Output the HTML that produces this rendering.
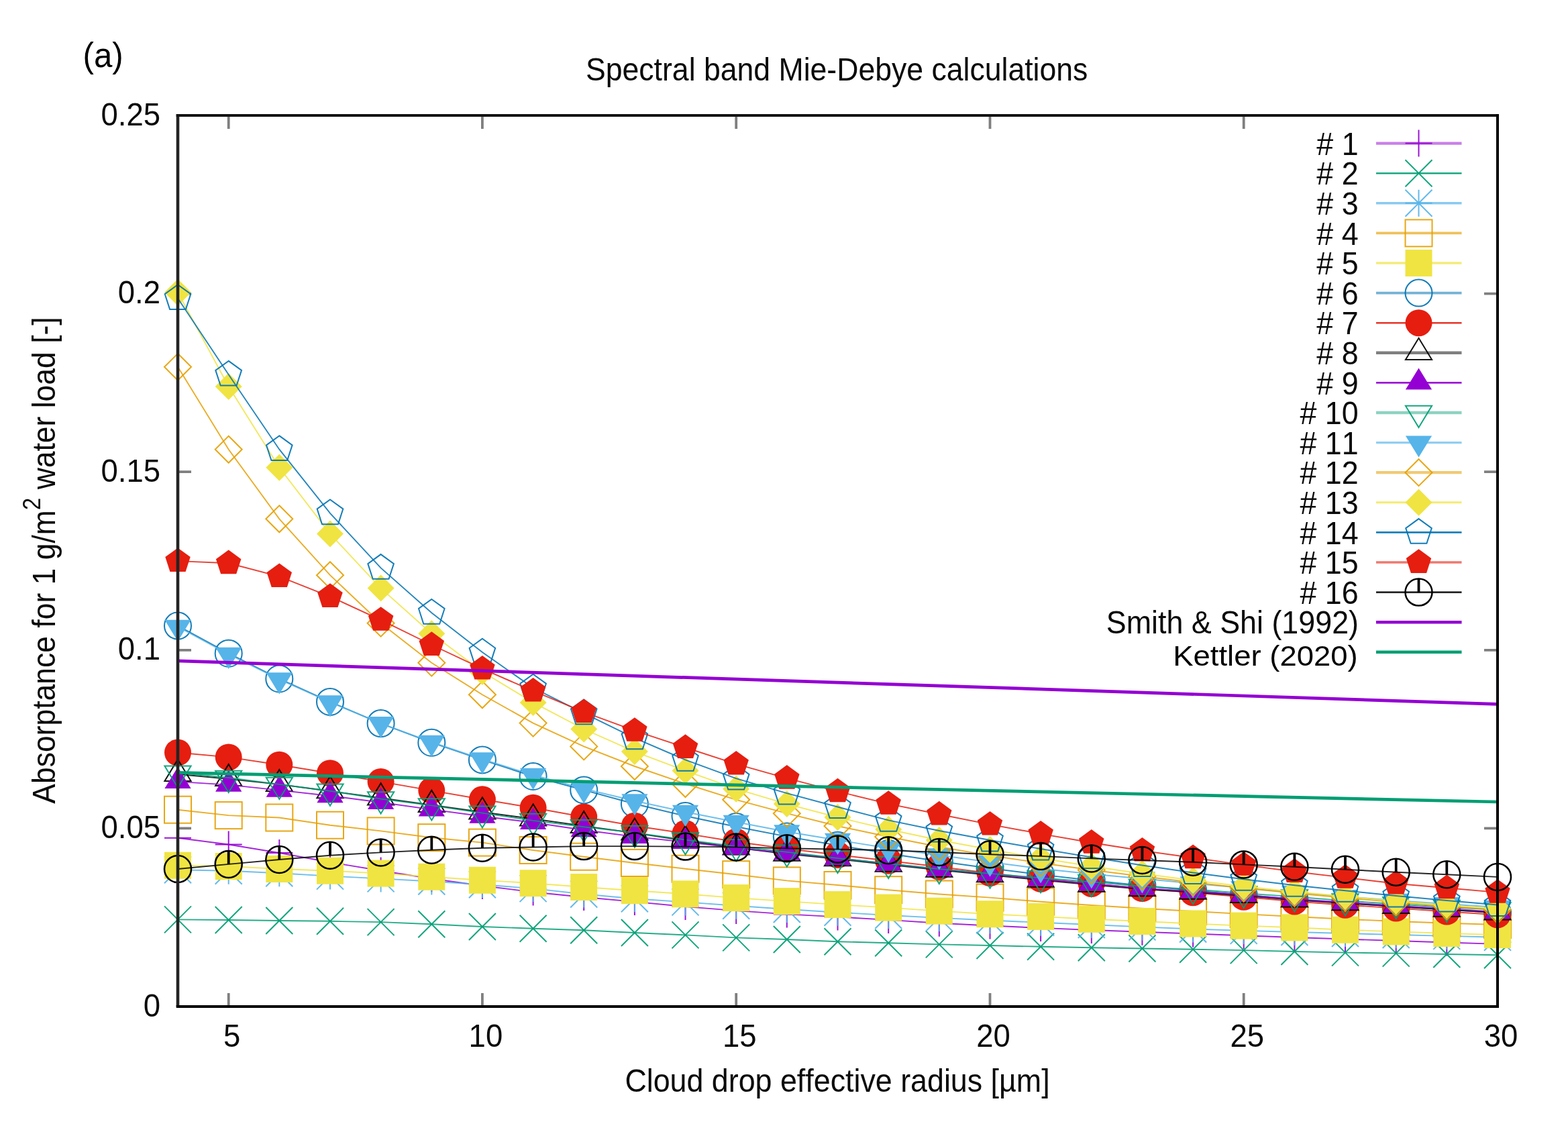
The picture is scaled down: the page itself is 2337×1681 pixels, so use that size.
<!DOCTYPE html>
<html lang="en"><head><meta charset="utf-8"><title>Spectral band Mie-Debye calculations</title>
<style>html,body{margin:0;padding:0;background:#fff}body{width:2337px;height:1681px;overflow:hidden}svg{display:block}text{font-family:'Liberation Sans', Arial, Helvetica, sans-serif;fill:#000;font-kerning:none}.p text{fill:#0a0a0a}</style></head><body>
<svg width="2337" height="1681" viewBox="0 0 2337 1681">
<rect width="2337" height="1681" fill="#fff"/>
<defs><clipPath id="c"><rect x="265" y="172" width="1967" height="1328"/></clipPath></defs>
<g>
<path d="M340.7 1500V1480M340.7 172V192M718.9 1500V1480M718.9 172V192M1097.2 1500V1480M1097.2 172V192M1475.5 1500V1480M1475.5 172V192M1853.7 1500V1480M1853.7 172V192M265 1234.4H285M2232 1234.4H2212M265 968.8H285M2232 968.8H2212M265 703.2H285M2232 703.2H2212M265 437.6H285M2232 437.6H2212" stroke="#000" stroke-opacity="0.5" stroke-width="3.8" fill="none"/>
<g stroke-linejoin="miter" stroke-linecap="butt">
<g>
<path d="M2051 213.6H2178.5" stroke="#9400D3" stroke-width="4.4" stroke-opacity="0.5" fill="none"/>
<path d="M2094.5 213.6H2134.5M2114.5 193.6V233.6" fill="none" stroke="#9400D3" stroke-width="2" stroke-opacity="0.92"/>
<polyline clip-path="url(#c)" points="265,1248.7 340.7,1258.5 416.3,1271 492,1285 567.6,1297.5 643.3,1309.5 718.9,1320 794.6,1329.5 870.2,1337 945.9,1343.9 1021.5,1351.1 1097.2,1357.1 1172.8,1362.4 1248.5,1366.4 1324.2,1370.9 1399.8,1375.7 1475.5,1379.5 1551.1,1382.9 1626.8,1386 1702.4,1388.8 1778.1,1391.5 1853.7,1394.3 1929.4,1397 2005,1399.5 2080.7,1402 2156.3,1404.5 2232,1406.9" fill="none" stroke="#9400D3" stroke-width="1.9" stroke-opacity="0.85"/>
<path d="M245 1248.7H285M265 1228.7V1268.7" fill="none" stroke="#9400D3" stroke-width="2" stroke-opacity="0.92"/>
<path d="M320.7 1258.5H360.7M340.7 1238.5V1278.5" fill="none" stroke="#9400D3" stroke-width="2" stroke-opacity="0.92"/>
<path d="M396.3 1271H436.3M416.3 1251V1291" fill="none" stroke="#9400D3" stroke-width="2" stroke-opacity="0.92"/>
<path d="M472 1285H512M492 1265V1305" fill="none" stroke="#9400D3" stroke-width="2" stroke-opacity="0.92"/>
<path d="M547.6 1297.5H587.6M567.6 1277.5V1317.5" fill="none" stroke="#9400D3" stroke-width="2" stroke-opacity="0.92"/>
<path d="M623.3 1309.5H663.3M643.3 1289.5V1329.5" fill="none" stroke="#9400D3" stroke-width="2" stroke-opacity="0.92"/>
<path d="M698.9 1320H738.9M718.9 1300V1340" fill="none" stroke="#9400D3" stroke-width="2" stroke-opacity="0.92"/>
<path d="M774.6 1329.5H814.6M794.6 1309.5V1349.5" fill="none" stroke="#9400D3" stroke-width="2" stroke-opacity="0.92"/>
<path d="M850.2 1337H890.2M870.2 1317V1357" fill="none" stroke="#9400D3" stroke-width="2" stroke-opacity="0.92"/>
<path d="M925.9 1343.9H965.9M945.9 1323.9V1363.9" fill="none" stroke="#9400D3" stroke-width="2" stroke-opacity="0.92"/>
<path d="M1001.5 1351.1H1041.5M1021.5 1331.1V1371.1" fill="none" stroke="#9400D3" stroke-width="2" stroke-opacity="0.92"/>
<path d="M1077.2 1357.1H1117.2M1097.2 1337.1V1377.1" fill="none" stroke="#9400D3" stroke-width="2" stroke-opacity="0.92"/>
<path d="M1152.8 1362.4H1192.8M1172.8 1342.4V1382.4" fill="none" stroke="#9400D3" stroke-width="2" stroke-opacity="0.92"/>
<path d="M1228.5 1366.4H1268.5M1248.5 1346.4V1386.4" fill="none" stroke="#9400D3" stroke-width="2" stroke-opacity="0.92"/>
<path d="M1304.2 1370.9H1344.2M1324.2 1350.9V1390.9" fill="none" stroke="#9400D3" stroke-width="2" stroke-opacity="0.92"/>
<path d="M1379.8 1375.7H1419.8M1399.8 1355.7V1395.7" fill="none" stroke="#9400D3" stroke-width="2" stroke-opacity="0.92"/>
<path d="M1455.5 1379.5H1495.5M1475.5 1359.5V1399.5" fill="none" stroke="#9400D3" stroke-width="2" stroke-opacity="0.92"/>
<path d="M1531.1 1382.9H1571.1M1551.1 1362.9V1402.9" fill="none" stroke="#9400D3" stroke-width="2" stroke-opacity="0.92"/>
<path d="M1606.8 1386H1646.8M1626.8 1366V1406" fill="none" stroke="#9400D3" stroke-width="2" stroke-opacity="0.92"/>
<path d="M1682.4 1388.8H1722.4M1702.4 1368.8V1408.8" fill="none" stroke="#9400D3" stroke-width="2" stroke-opacity="0.92"/>
<path d="M1758.1 1391.5H1798.1M1778.1 1371.5V1411.5" fill="none" stroke="#9400D3" stroke-width="2" stroke-opacity="0.92"/>
<path d="M1833.7 1394.3H1873.7M1853.7 1374.3V1414.3" fill="none" stroke="#9400D3" stroke-width="2" stroke-opacity="0.92"/>
<path d="M1909.4 1397H1949.4M1929.4 1377V1417" fill="none" stroke="#9400D3" stroke-width="2" stroke-opacity="0.92"/>
<path d="M1985 1399.5H2025M2005 1379.5V1419.5" fill="none" stroke="#9400D3" stroke-width="2" stroke-opacity="0.92"/>
<path d="M2060.7 1402H2100.7M2080.7 1382V1422" fill="none" stroke="#9400D3" stroke-width="2" stroke-opacity="0.92"/>
<path d="M2136.3 1404.5H2176.3M2156.3 1384.5V1424.5" fill="none" stroke="#9400D3" stroke-width="2" stroke-opacity="0.92"/>
<path d="M2212 1406.9H2252M2232 1386.9V1426.9" fill="none" stroke="#9400D3" stroke-width="2" stroke-opacity="0.92"/>
</g>
<g>
<path d="M2051 258.2H2178.5" stroke="#009E73" stroke-width="2.6" stroke-opacity="0.9" fill="none"/>
<path d="M2094.5 238.2L2134.5 278.2M2094.5 278.2L2134.5 238.2" fill="none" stroke="#009E73" stroke-width="2" stroke-opacity="0.92"/>
<polyline clip-path="url(#c)" points="265,1370.4 340.7,1371 416.3,1372 492,1372.8 567.6,1374.1 643.3,1377.3 718.9,1381 794.6,1383.7 870.2,1386.2 945.9,1390 1021.5,1393.4 1097.2,1397.4 1172.8,1400 1248.5,1403.2 1324.2,1405.3 1399.8,1407.4 1475.5,1409 1551.1,1410.8 1626.8,1412.2 1702.4,1413.5 1778.1,1414.8 1853.7,1416.1 1929.4,1418 2005,1419.6 2080.7,1420.6 2156.3,1422 2232,1423.3" fill="none" stroke="#009E73" stroke-width="1.9" stroke-opacity="0.85"/>
<path d="M245 1350.4L285 1390.4M245 1390.4L285 1350.4" fill="none" stroke="#009E73" stroke-width="2" stroke-opacity="0.92"/>
<path d="M320.7 1351L360.7 1391M320.7 1391L360.7 1351" fill="none" stroke="#009E73" stroke-width="2" stroke-opacity="0.92"/>
<path d="M396.3 1352L436.3 1392M396.3 1392L436.3 1352" fill="none" stroke="#009E73" stroke-width="2" stroke-opacity="0.92"/>
<path d="M472 1352.8L512 1392.8M472 1392.8L512 1352.8" fill="none" stroke="#009E73" stroke-width="2" stroke-opacity="0.92"/>
<path d="M547.6 1354.1L587.6 1394.1M547.6 1394.1L587.6 1354.1" fill="none" stroke="#009E73" stroke-width="2" stroke-opacity="0.92"/>
<path d="M623.3 1357.3L663.3 1397.3M623.3 1397.3L663.3 1357.3" fill="none" stroke="#009E73" stroke-width="2" stroke-opacity="0.92"/>
<path d="M698.9 1361L738.9 1401M698.9 1401L738.9 1361" fill="none" stroke="#009E73" stroke-width="2" stroke-opacity="0.92"/>
<path d="M774.6 1363.7L814.6 1403.7M774.6 1403.7L814.6 1363.7" fill="none" stroke="#009E73" stroke-width="2" stroke-opacity="0.92"/>
<path d="M850.2 1366.2L890.2 1406.2M850.2 1406.2L890.2 1366.2" fill="none" stroke="#009E73" stroke-width="2" stroke-opacity="0.92"/>
<path d="M925.9 1370L965.9 1410M925.9 1410L965.9 1370" fill="none" stroke="#009E73" stroke-width="2" stroke-opacity="0.92"/>
<path d="M1001.5 1373.4L1041.5 1413.4M1001.5 1413.4L1041.5 1373.4" fill="none" stroke="#009E73" stroke-width="2" stroke-opacity="0.92"/>
<path d="M1077.2 1377.4L1117.2 1417.4M1077.2 1417.4L1117.2 1377.4" fill="none" stroke="#009E73" stroke-width="2" stroke-opacity="0.92"/>
<path d="M1152.8 1380L1192.8 1420M1152.8 1420L1192.8 1380" fill="none" stroke="#009E73" stroke-width="2" stroke-opacity="0.92"/>
<path d="M1228.5 1383.2L1268.5 1423.2M1228.5 1423.2L1268.5 1383.2" fill="none" stroke="#009E73" stroke-width="2" stroke-opacity="0.92"/>
<path d="M1304.2 1385.3L1344.2 1425.3M1304.2 1425.3L1344.2 1385.3" fill="none" stroke="#009E73" stroke-width="2" stroke-opacity="0.92"/>
<path d="M1379.8 1387.4L1419.8 1427.4M1379.8 1427.4L1419.8 1387.4" fill="none" stroke="#009E73" stroke-width="2" stroke-opacity="0.92"/>
<path d="M1455.5 1389L1495.5 1429M1455.5 1429L1495.5 1389" fill="none" stroke="#009E73" stroke-width="2" stroke-opacity="0.92"/>
<path d="M1531.1 1390.8L1571.1 1430.8M1531.1 1430.8L1571.1 1390.8" fill="none" stroke="#009E73" stroke-width="2" stroke-opacity="0.92"/>
<path d="M1606.8 1392.2L1646.8 1432.2M1606.8 1432.2L1646.8 1392.2" fill="none" stroke="#009E73" stroke-width="2" stroke-opacity="0.92"/>
<path d="M1682.4 1393.5L1722.4 1433.5M1682.4 1433.5L1722.4 1393.5" fill="none" stroke="#009E73" stroke-width="2" stroke-opacity="0.92"/>
<path d="M1758.1 1394.8L1798.1 1434.8M1758.1 1434.8L1798.1 1394.8" fill="none" stroke="#009E73" stroke-width="2" stroke-opacity="0.92"/>
<path d="M1833.7 1396.1L1873.7 1436.1M1833.7 1436.1L1873.7 1396.1" fill="none" stroke="#009E73" stroke-width="2" stroke-opacity="0.92"/>
<path d="M1909.4 1398L1949.4 1438M1909.4 1438L1949.4 1398" fill="none" stroke="#009E73" stroke-width="2" stroke-opacity="0.92"/>
<path d="M1985 1399.6L2025 1439.6M1985 1439.6L2025 1399.6" fill="none" stroke="#009E73" stroke-width="2" stroke-opacity="0.92"/>
<path d="M2060.7 1400.6L2100.7 1440.6M2060.7 1440.6L2100.7 1400.6" fill="none" stroke="#009E73" stroke-width="2" stroke-opacity="0.92"/>
<path d="M2136.3 1402L2176.3 1442M2136.3 1442L2176.3 1402" fill="none" stroke="#009E73" stroke-width="2" stroke-opacity="0.92"/>
<path d="M2212 1403.3L2252 1443.3M2212 1443.3L2252 1403.3" fill="none" stroke="#009E73" stroke-width="2" stroke-opacity="0.92"/>
</g>
<g>
<path d="M2051 302.8H2178.5" stroke="#56B4E9" stroke-width="3.4" stroke-opacity="0.7" fill="none"/>
<path d="M2094.5 302.8H2134.5M2114.5 282.8V322.8M2094.5 282.8L2134.5 322.8M2094.5 322.8L2134.5 282.8" fill="none" stroke="#56B4E9" stroke-width="2" stroke-opacity="0.92"/>
<polyline clip-path="url(#c)" points="265,1296.3 340.7,1297.7 416.3,1301.2 492,1305.6 567.6,1309.4 643.3,1313.5 718.9,1318.3 794.6,1324.1 870.2,1332.5 945.9,1339.2 1021.5,1344.4 1097.2,1349.7 1172.8,1355 1248.5,1359.7 1324.2,1364 1399.8,1367.9 1475.5,1371.5 1551.1,1374.8 1626.8,1378 1702.4,1381.4 1778.1,1384.5 1853.7,1386.9 1929.4,1389 2005,1391 2080.7,1393 2156.3,1394.9 2232,1396.8" fill="none" stroke="#56B4E9" stroke-width="1.9" stroke-opacity="0.85"/>
<path d="M245 1296.3H285M265 1276.3V1316.3M245 1276.3L285 1316.3M245 1316.3L285 1276.3" fill="none" stroke="#56B4E9" stroke-width="2" stroke-opacity="0.92"/>
<path d="M320.7 1297.7H360.7M340.7 1277.7V1317.7M320.7 1277.7L360.7 1317.7M320.7 1317.7L360.7 1277.7" fill="none" stroke="#56B4E9" stroke-width="2" stroke-opacity="0.92"/>
<path d="M396.3 1301.2H436.3M416.3 1281.2V1321.2M396.3 1281.2L436.3 1321.2M396.3 1321.2L436.3 1281.2" fill="none" stroke="#56B4E9" stroke-width="2" stroke-opacity="0.92"/>
<path d="M472 1305.6H512M492 1285.6V1325.6M472 1285.6L512 1325.6M472 1325.6L512 1285.6" fill="none" stroke="#56B4E9" stroke-width="2" stroke-opacity="0.92"/>
<path d="M547.6 1309.4H587.6M567.6 1289.4V1329.4M547.6 1289.4L587.6 1329.4M547.6 1329.4L587.6 1289.4" fill="none" stroke="#56B4E9" stroke-width="2" stroke-opacity="0.92"/>
<path d="M623.3 1313.5H663.3M643.3 1293.5V1333.5M623.3 1293.5L663.3 1333.5M623.3 1333.5L663.3 1293.5" fill="none" stroke="#56B4E9" stroke-width="2" stroke-opacity="0.92"/>
<path d="M698.9 1318.3H738.9M718.9 1298.3V1338.3M698.9 1298.3L738.9 1338.3M698.9 1338.3L738.9 1298.3" fill="none" stroke="#56B4E9" stroke-width="2" stroke-opacity="0.92"/>
<path d="M774.6 1324.1H814.6M794.6 1304.1V1344.1M774.6 1304.1L814.6 1344.1M774.6 1344.1L814.6 1304.1" fill="none" stroke="#56B4E9" stroke-width="2" stroke-opacity="0.92"/>
<path d="M850.2 1332.5H890.2M870.2 1312.5V1352.5M850.2 1312.5L890.2 1352.5M850.2 1352.5L890.2 1312.5" fill="none" stroke="#56B4E9" stroke-width="2" stroke-opacity="0.92"/>
<path d="M925.9 1339.2H965.9M945.9 1319.2V1359.2M925.9 1319.2L965.9 1359.2M925.9 1359.2L965.9 1319.2" fill="none" stroke="#56B4E9" stroke-width="2" stroke-opacity="0.92"/>
<path d="M1001.5 1344.4H1041.5M1021.5 1324.4V1364.4M1001.5 1324.4L1041.5 1364.4M1001.5 1364.4L1041.5 1324.4" fill="none" stroke="#56B4E9" stroke-width="2" stroke-opacity="0.92"/>
<path d="M1077.2 1349.7H1117.2M1097.2 1329.7V1369.7M1077.2 1329.7L1117.2 1369.7M1077.2 1369.7L1117.2 1329.7" fill="none" stroke="#56B4E9" stroke-width="2" stroke-opacity="0.92"/>
<path d="M1152.8 1355H1192.8M1172.8 1335V1375M1152.8 1335L1192.8 1375M1152.8 1375L1192.8 1335" fill="none" stroke="#56B4E9" stroke-width="2" stroke-opacity="0.92"/>
<path d="M1228.5 1359.7H1268.5M1248.5 1339.7V1379.7M1228.5 1339.7L1268.5 1379.7M1228.5 1379.7L1268.5 1339.7" fill="none" stroke="#56B4E9" stroke-width="2" stroke-opacity="0.92"/>
<path d="M1304.2 1364H1344.2M1324.2 1344V1384M1304.2 1344L1344.2 1384M1304.2 1384L1344.2 1344" fill="none" stroke="#56B4E9" stroke-width="2" stroke-opacity="0.92"/>
<path d="M1379.8 1367.9H1419.8M1399.8 1347.9V1387.9M1379.8 1347.9L1419.8 1387.9M1379.8 1387.9L1419.8 1347.9" fill="none" stroke="#56B4E9" stroke-width="2" stroke-opacity="0.92"/>
<path d="M1455.5 1371.5H1495.5M1475.5 1351.5V1391.5M1455.5 1351.5L1495.5 1391.5M1455.5 1391.5L1495.5 1351.5" fill="none" stroke="#56B4E9" stroke-width="2" stroke-opacity="0.92"/>
<path d="M1531.1 1374.8H1571.1M1551.1 1354.8V1394.8M1531.1 1354.8L1571.1 1394.8M1531.1 1394.8L1571.1 1354.8" fill="none" stroke="#56B4E9" stroke-width="2" stroke-opacity="0.92"/>
<path d="M1606.8 1378H1646.8M1626.8 1358V1398M1606.8 1358L1646.8 1398M1606.8 1398L1646.8 1358" fill="none" stroke="#56B4E9" stroke-width="2" stroke-opacity="0.92"/>
<path d="M1682.4 1381.4H1722.4M1702.4 1361.4V1401.4M1682.4 1361.4L1722.4 1401.4M1682.4 1401.4L1722.4 1361.4" fill="none" stroke="#56B4E9" stroke-width="2" stroke-opacity="0.92"/>
<path d="M1758.1 1384.5H1798.1M1778.1 1364.5V1404.5M1758.1 1364.5L1798.1 1404.5M1758.1 1404.5L1798.1 1364.5" fill="none" stroke="#56B4E9" stroke-width="2" stroke-opacity="0.92"/>
<path d="M1833.7 1386.9H1873.7M1853.7 1366.9V1406.9M1833.7 1366.9L1873.7 1406.9M1833.7 1406.9L1873.7 1366.9" fill="none" stroke="#56B4E9" stroke-width="2" stroke-opacity="0.92"/>
<path d="M1909.4 1389H1949.4M1929.4 1369V1409M1909.4 1369L1949.4 1409M1909.4 1409L1949.4 1369" fill="none" stroke="#56B4E9" stroke-width="2" stroke-opacity="0.92"/>
<path d="M1985 1391H2025M2005 1371V1411M1985 1371L2025 1411M1985 1411L2025 1371" fill="none" stroke="#56B4E9" stroke-width="2" stroke-opacity="0.92"/>
<path d="M2060.7 1393H2100.7M2080.7 1373V1413M2060.7 1373L2100.7 1413M2060.7 1413L2100.7 1373" fill="none" stroke="#56B4E9" stroke-width="2" stroke-opacity="0.92"/>
<path d="M2136.3 1394.9H2176.3M2156.3 1374.9V1414.9M2136.3 1374.9L2176.3 1414.9M2136.3 1414.9L2176.3 1374.9" fill="none" stroke="#56B4E9" stroke-width="2" stroke-opacity="0.92"/>
<path d="M2212 1396.8H2252M2232 1376.8V1416.8M2212 1376.8L2252 1416.8M2212 1416.8L2252 1376.8" fill="none" stroke="#56B4E9" stroke-width="2" stroke-opacity="0.92"/>
</g>
<g>
<path d="M2051 347.4H2178.5" stroke="#E69F00" stroke-width="3.6" stroke-opacity="0.65" fill="none"/>
<rect x="2094.5" y="327.4" width="40" height="40" fill="none" stroke="#E69F00" stroke-width="2" stroke-opacity="0.92"/>
<polyline clip-path="url(#c)" points="265,1206.7 340.7,1215.1 416.3,1218.5 492,1229.7 567.6,1238.4 643.3,1248.2 718.9,1255.6 794.6,1267 870.2,1276.7 945.9,1286 1021.5,1294.7 1097.2,1303.2 1172.8,1312.4 1248.5,1319 1324.2,1326.2 1399.8,1332.5 1475.5,1337.6 1551.1,1343.7 1626.8,1349 1702.4,1353.7 1778.1,1358 1853.7,1362.1 1929.4,1366 2005,1369.7 2080.7,1373 2156.3,1375.7 2232,1378" fill="none" stroke="#E69F00" stroke-width="1.9" stroke-opacity="0.85"/>
<rect x="245" y="1186.7" width="40" height="40" fill="none" stroke="#E69F00" stroke-width="2" stroke-opacity="0.92"/>
<rect x="320.7" y="1195.1" width="40" height="40" fill="none" stroke="#E69F00" stroke-width="2" stroke-opacity="0.92"/>
<rect x="396.3" y="1198.5" width="40" height="40" fill="none" stroke="#E69F00" stroke-width="2" stroke-opacity="0.92"/>
<rect x="472" y="1209.7" width="40" height="40" fill="none" stroke="#E69F00" stroke-width="2" stroke-opacity="0.92"/>
<rect x="547.6" y="1218.4" width="40" height="40" fill="none" stroke="#E69F00" stroke-width="2" stroke-opacity="0.92"/>
<rect x="623.3" y="1228.2" width="40" height="40" fill="none" stroke="#E69F00" stroke-width="2" stroke-opacity="0.92"/>
<rect x="698.9" y="1235.6" width="40" height="40" fill="none" stroke="#E69F00" stroke-width="2" stroke-opacity="0.92"/>
<rect x="774.6" y="1247" width="40" height="40" fill="none" stroke="#E69F00" stroke-width="2" stroke-opacity="0.92"/>
<rect x="850.2" y="1256.7" width="40" height="40" fill="none" stroke="#E69F00" stroke-width="2" stroke-opacity="0.92"/>
<rect x="925.9" y="1266" width="40" height="40" fill="none" stroke="#E69F00" stroke-width="2" stroke-opacity="0.92"/>
<rect x="1001.5" y="1274.7" width="40" height="40" fill="none" stroke="#E69F00" stroke-width="2" stroke-opacity="0.92"/>
<rect x="1077.2" y="1283.2" width="40" height="40" fill="none" stroke="#E69F00" stroke-width="2" stroke-opacity="0.92"/>
<rect x="1152.8" y="1292.4" width="40" height="40" fill="none" stroke="#E69F00" stroke-width="2" stroke-opacity="0.92"/>
<rect x="1228.5" y="1299" width="40" height="40" fill="none" stroke="#E69F00" stroke-width="2" stroke-opacity="0.92"/>
<rect x="1304.2" y="1306.2" width="40" height="40" fill="none" stroke="#E69F00" stroke-width="2" stroke-opacity="0.92"/>
<rect x="1379.8" y="1312.5" width="40" height="40" fill="none" stroke="#E69F00" stroke-width="2" stroke-opacity="0.92"/>
<rect x="1455.5" y="1317.6" width="40" height="40" fill="none" stroke="#E69F00" stroke-width="2" stroke-opacity="0.92"/>
<rect x="1531.1" y="1323.7" width="40" height="40" fill="none" stroke="#E69F00" stroke-width="2" stroke-opacity="0.92"/>
<rect x="1606.8" y="1329" width="40" height="40" fill="none" stroke="#E69F00" stroke-width="2" stroke-opacity="0.92"/>
<rect x="1682.4" y="1333.7" width="40" height="40" fill="none" stroke="#E69F00" stroke-width="2" stroke-opacity="0.92"/>
<rect x="1758.1" y="1338" width="40" height="40" fill="none" stroke="#E69F00" stroke-width="2" stroke-opacity="0.92"/>
<rect x="1833.7" y="1342.1" width="40" height="40" fill="none" stroke="#E69F00" stroke-width="2" stroke-opacity="0.92"/>
<rect x="1909.4" y="1346" width="40" height="40" fill="none" stroke="#E69F00" stroke-width="2" stroke-opacity="0.92"/>
<rect x="1985" y="1349.7" width="40" height="40" fill="none" stroke="#E69F00" stroke-width="2" stroke-opacity="0.92"/>
<rect x="2060.7" y="1353" width="40" height="40" fill="none" stroke="#E69F00" stroke-width="2" stroke-opacity="0.92"/>
<rect x="2136.3" y="1355.7" width="40" height="40" fill="none" stroke="#E69F00" stroke-width="2" stroke-opacity="0.92"/>
<rect x="2212" y="1358" width="40" height="40" fill="none" stroke="#E69F00" stroke-width="2" stroke-opacity="0.92"/>
</g>
<g>
<path d="M2051 392H2178.5" stroke="#F0E442" stroke-width="3.4" stroke-opacity="0.7" fill="none"/>
<rect x="2094.5" y="372" width="40" height="40" fill="#F0E442"/>
<polyline clip-path="url(#c)" points="265,1289.7 340.7,1291 416.3,1295 492,1297.7 567.6,1301.6 643.3,1306.7 718.9,1311.7 794.6,1316.2 870.2,1322 945.9,1327.2 1021.5,1332.3 1097.2,1338.1 1172.8,1343.1 1248.5,1348.1 1324.2,1352.6 1399.8,1357.6 1475.5,1362.2 1551.1,1365.9 1626.8,1369.8 1702.4,1373 1778.1,1376.5 1853.7,1379.6 1929.4,1382.3 2005,1385.7 2080.7,1388.4 2156.3,1391 2232,1393.1" fill="none" stroke="#F0E442" stroke-width="1.9" stroke-opacity="0.85"/>
<rect x="245" y="1269.7" width="40" height="40" fill="#F0E442"/>
<rect x="320.7" y="1271" width="40" height="40" fill="#F0E442"/>
<rect x="396.3" y="1275" width="40" height="40" fill="#F0E442"/>
<rect x="472" y="1277.7" width="40" height="40" fill="#F0E442"/>
<rect x="547.6" y="1281.6" width="40" height="40" fill="#F0E442"/>
<rect x="623.3" y="1286.7" width="40" height="40" fill="#F0E442"/>
<rect x="698.9" y="1291.7" width="40" height="40" fill="#F0E442"/>
<rect x="774.6" y="1296.2" width="40" height="40" fill="#F0E442"/>
<rect x="850.2" y="1302" width="40" height="40" fill="#F0E442"/>
<rect x="925.9" y="1307.2" width="40" height="40" fill="#F0E442"/>
<rect x="1001.5" y="1312.3" width="40" height="40" fill="#F0E442"/>
<rect x="1077.2" y="1318.1" width="40" height="40" fill="#F0E442"/>
<rect x="1152.8" y="1323.1" width="40" height="40" fill="#F0E442"/>
<rect x="1228.5" y="1328.1" width="40" height="40" fill="#F0E442"/>
<rect x="1304.2" y="1332.6" width="40" height="40" fill="#F0E442"/>
<rect x="1379.8" y="1337.6" width="40" height="40" fill="#F0E442"/>
<rect x="1455.5" y="1342.2" width="40" height="40" fill="#F0E442"/>
<rect x="1531.1" y="1345.9" width="40" height="40" fill="#F0E442"/>
<rect x="1606.8" y="1349.8" width="40" height="40" fill="#F0E442"/>
<rect x="1682.4" y="1353" width="40" height="40" fill="#F0E442"/>
<rect x="1758.1" y="1356.5" width="40" height="40" fill="#F0E442"/>
<rect x="1833.7" y="1359.6" width="40" height="40" fill="#F0E442"/>
<rect x="1909.4" y="1362.3" width="40" height="40" fill="#F0E442"/>
<rect x="1985" y="1365.7" width="40" height="40" fill="#F0E442"/>
<rect x="2060.7" y="1368.4" width="40" height="40" fill="#F0E442"/>
<rect x="2136.3" y="1371" width="40" height="40" fill="#F0E442"/>
<rect x="2212" y="1373.1" width="40" height="40" fill="#F0E442"/>
</g>
<g>
<path d="M2051 436.6H2178.5" stroke="#0072B2" stroke-width="3.8" stroke-opacity="0.55" fill="none"/>
<circle cx="2114.5" cy="436.6" r="20" fill="none" stroke="#0072B2" stroke-width="2" stroke-opacity="0.92"/>
<polyline clip-path="url(#c)" points="265,932.6 340.7,973.7 416.3,1011.5 492,1045.9 567.6,1078.1 643.3,1106.7 718.9,1132.4 794.6,1157 870.2,1177.4 945.9,1198 1021.5,1216 1097.2,1232 1172.8,1246.6 1248.5,1259.8 1324.2,1272 1399.8,1283.5 1475.5,1294 1551.1,1303.4 1626.8,1312 1702.4,1319.8 1778.1,1327 1853.7,1333.8 1929.4,1340 2005,1345.8 2080.7,1351 2156.3,1355.7 2232,1360" fill="none" stroke="#0072B2" stroke-width="1.9" stroke-opacity="0.85"/>
<circle cx="265" cy="932.6" r="20" fill="none" stroke="#0072B2" stroke-width="2" stroke-opacity="0.92"/>
<circle cx="340.7" cy="973.7" r="20" fill="none" stroke="#0072B2" stroke-width="2" stroke-opacity="0.92"/>
<circle cx="416.3" cy="1011.5" r="20" fill="none" stroke="#0072B2" stroke-width="2" stroke-opacity="0.92"/>
<circle cx="492" cy="1045.9" r="20" fill="none" stroke="#0072B2" stroke-width="2" stroke-opacity="0.92"/>
<circle cx="567.6" cy="1078.1" r="20" fill="none" stroke="#0072B2" stroke-width="2" stroke-opacity="0.92"/>
<circle cx="643.3" cy="1106.7" r="20" fill="none" stroke="#0072B2" stroke-width="2" stroke-opacity="0.92"/>
<circle cx="718.9" cy="1132.4" r="20" fill="none" stroke="#0072B2" stroke-width="2" stroke-opacity="0.92"/>
<circle cx="794.6" cy="1157" r="20" fill="none" stroke="#0072B2" stroke-width="2" stroke-opacity="0.92"/>
<circle cx="870.2" cy="1177.4" r="20" fill="none" stroke="#0072B2" stroke-width="2" stroke-opacity="0.92"/>
<circle cx="945.9" cy="1198" r="20" fill="none" stroke="#0072B2" stroke-width="2" stroke-opacity="0.92"/>
<circle cx="1021.5" cy="1216" r="20" fill="none" stroke="#0072B2" stroke-width="2" stroke-opacity="0.92"/>
<circle cx="1097.2" cy="1232" r="20" fill="none" stroke="#0072B2" stroke-width="2" stroke-opacity="0.92"/>
<circle cx="1172.8" cy="1246.6" r="20" fill="none" stroke="#0072B2" stroke-width="2" stroke-opacity="0.92"/>
<circle cx="1248.5" cy="1259.8" r="20" fill="none" stroke="#0072B2" stroke-width="2" stroke-opacity="0.92"/>
<circle cx="1324.2" cy="1272" r="20" fill="none" stroke="#0072B2" stroke-width="2" stroke-opacity="0.92"/>
<circle cx="1399.8" cy="1283.5" r="20" fill="none" stroke="#0072B2" stroke-width="2" stroke-opacity="0.92"/>
<circle cx="1475.5" cy="1294" r="20" fill="none" stroke="#0072B2" stroke-width="2" stroke-opacity="0.92"/>
<circle cx="1551.1" cy="1303.4" r="20" fill="none" stroke="#0072B2" stroke-width="2" stroke-opacity="0.92"/>
<circle cx="1626.8" cy="1312" r="20" fill="none" stroke="#0072B2" stroke-width="2" stroke-opacity="0.92"/>
<circle cx="1702.4" cy="1319.8" r="20" fill="none" stroke="#0072B2" stroke-width="2" stroke-opacity="0.92"/>
<circle cx="1778.1" cy="1327" r="20" fill="none" stroke="#0072B2" stroke-width="2" stroke-opacity="0.92"/>
<circle cx="1853.7" cy="1333.8" r="20" fill="none" stroke="#0072B2" stroke-width="2" stroke-opacity="0.92"/>
<circle cx="1929.4" cy="1340" r="20" fill="none" stroke="#0072B2" stroke-width="2" stroke-opacity="0.92"/>
<circle cx="2005" cy="1345.8" r="20" fill="none" stroke="#0072B2" stroke-width="2" stroke-opacity="0.92"/>
<circle cx="2080.7" cy="1351" r="20" fill="none" stroke="#0072B2" stroke-width="2" stroke-opacity="0.92"/>
<circle cx="2156.3" cy="1355.7" r="20" fill="none" stroke="#0072B2" stroke-width="2" stroke-opacity="0.92"/>
<circle cx="2232" cy="1360" r="20" fill="none" stroke="#0072B2" stroke-width="2" stroke-opacity="0.92"/>
</g>
<g>
<path d="M2051 481.2H2178.5" stroke="#E51E10" stroke-width="2.4" stroke-opacity="0.9" fill="none"/>
<circle cx="2114.5" cy="481.2" r="20" fill="#E51E10"/>
<polyline clip-path="url(#c)" points="265,1121.5 340.7,1128.4 416.3,1139.7 492,1152.2 567.6,1164.9 643.3,1178.1 718.9,1191.3 794.6,1203.8 870.2,1217.5 945.9,1230.7 1021.5,1242.1 1097.2,1254.5 1172.8,1264.7 1248.5,1274 1324.2,1282.8 1399.8,1291.8 1475.5,1301.1 1551.1,1309.8 1626.8,1316.9 1702.4,1324.1 1778.1,1330.2 1853.7,1336.8 1929.4,1343.4 2005,1348.7 2080.7,1353.4 2156.3,1358.5 2232,1363.2" fill="none" stroke="#E51E10" stroke-width="1.9" stroke-opacity="0.85"/>
<circle cx="265" cy="1121.5" r="20" fill="#E51E10"/>
<circle cx="340.7" cy="1128.4" r="20" fill="#E51E10"/>
<circle cx="416.3" cy="1139.7" r="20" fill="#E51E10"/>
<circle cx="492" cy="1152.2" r="20" fill="#E51E10"/>
<circle cx="567.6" cy="1164.9" r="20" fill="#E51E10"/>
<circle cx="643.3" cy="1178.1" r="20" fill="#E51E10"/>
<circle cx="718.9" cy="1191.3" r="20" fill="#E51E10"/>
<circle cx="794.6" cy="1203.8" r="20" fill="#E51E10"/>
<circle cx="870.2" cy="1217.5" r="20" fill="#E51E10"/>
<circle cx="945.9" cy="1230.7" r="20" fill="#E51E10"/>
<circle cx="1021.5" cy="1242.1" r="20" fill="#E51E10"/>
<circle cx="1097.2" cy="1254.5" r="20" fill="#E51E10"/>
<circle cx="1172.8" cy="1264.7" r="20" fill="#E51E10"/>
<circle cx="1248.5" cy="1274" r="20" fill="#E51E10"/>
<circle cx="1324.2" cy="1282.8" r="20" fill="#E51E10"/>
<circle cx="1399.8" cy="1291.8" r="20" fill="#E51E10"/>
<circle cx="1475.5" cy="1301.1" r="20" fill="#E51E10"/>
<circle cx="1551.1" cy="1309.8" r="20" fill="#E51E10"/>
<circle cx="1626.8" cy="1316.9" r="20" fill="#E51E10"/>
<circle cx="1702.4" cy="1324.1" r="20" fill="#E51E10"/>
<circle cx="1778.1" cy="1330.2" r="20" fill="#E51E10"/>
<circle cx="1853.7" cy="1336.8" r="20" fill="#E51E10"/>
<circle cx="1929.4" cy="1343.4" r="20" fill="#E51E10"/>
<circle cx="2005" cy="1348.7" r="20" fill="#E51E10"/>
<circle cx="2080.7" cy="1353.4" r="20" fill="#E51E10"/>
<circle cx="2156.3" cy="1358.5" r="20" fill="#E51E10"/>
<circle cx="2232" cy="1363.2" r="20" fill="#E51E10"/>
</g>
<g>
<path d="M2051 525.8H2178.5" stroke="#000000" stroke-width="4.6" stroke-opacity="0.5" fill="none"/>
<polygon points="2114.5,503.8 2134.1,536 2094.9,536" fill="none" stroke="#000000" stroke-width="2" stroke-opacity="0.92"/>
<polyline clip-path="url(#c)" points="265,1153.7 340.7,1160.9 416.3,1168.9 492,1179 567.6,1189.2 643.3,1199.7 718.9,1210.3 794.6,1220.3 870.2,1230.9 945.9,1241.4 1021.5,1252.7 1097.2,1263.3 1172.8,1272.6 1248.5,1280 1324.2,1288.6 1399.8,1296.5 1475.5,1304 1551.1,1311.5 1626.8,1318.5 1702.4,1325 1778.1,1329.5 1853.7,1334.8 1929.4,1341.4 2005,1346 2080.7,1350.9 2156.3,1355.5 2232,1360.2" fill="none" stroke="#000000" stroke-width="1.9" stroke-opacity="0.85"/>
<polygon points="265,1131.7 284.6,1163.9 245.4,1163.9" fill="none" stroke="#000000" stroke-width="2" stroke-opacity="0.92"/>
<polygon points="340.7,1138.9 360.3,1171.1 321.1,1171.1" fill="none" stroke="#000000" stroke-width="2" stroke-opacity="0.92"/>
<polygon points="416.3,1146.9 435.9,1179.1 396.7,1179.1" fill="none" stroke="#000000" stroke-width="2" stroke-opacity="0.92"/>
<polygon points="492,1157 511.6,1189.2 472.4,1189.2" fill="none" stroke="#000000" stroke-width="2" stroke-opacity="0.92"/>
<polygon points="567.6,1167.2 587.2,1199.4 548,1199.4" fill="none" stroke="#000000" stroke-width="2" stroke-opacity="0.92"/>
<polygon points="643.3,1177.7 662.9,1209.9 623.7,1209.9" fill="none" stroke="#000000" stroke-width="2" stroke-opacity="0.92"/>
<polygon points="718.9,1188.3 738.5,1220.5 699.3,1220.5" fill="none" stroke="#000000" stroke-width="2" stroke-opacity="0.92"/>
<polygon points="794.6,1198.3 814.2,1230.5 775,1230.5" fill="none" stroke="#000000" stroke-width="2" stroke-opacity="0.92"/>
<polygon points="870.2,1208.9 889.8,1241.1 850.6,1241.1" fill="none" stroke="#000000" stroke-width="2" stroke-opacity="0.92"/>
<polygon points="945.9,1219.4 965.5,1251.6 926.3,1251.6" fill="none" stroke="#000000" stroke-width="2" stroke-opacity="0.92"/>
<polygon points="1021.5,1230.7 1041.1,1262.9 1001.9,1262.9" fill="none" stroke="#000000" stroke-width="2" stroke-opacity="0.92"/>
<polygon points="1097.2,1241.3 1116.8,1273.5 1077.6,1273.5" fill="none" stroke="#000000" stroke-width="2" stroke-opacity="0.92"/>
<polygon points="1172.8,1250.6 1192.4,1282.8 1153.2,1282.8" fill="none" stroke="#000000" stroke-width="2" stroke-opacity="0.92"/>
<polygon points="1248.5,1258 1268.1,1290.2 1228.9,1290.2" fill="none" stroke="#000000" stroke-width="2" stroke-opacity="0.92"/>
<polygon points="1324.2,1266.6 1343.8,1298.8 1304.6,1298.8" fill="none" stroke="#000000" stroke-width="2" stroke-opacity="0.92"/>
<polygon points="1399.8,1274.5 1419.4,1306.7 1380.2,1306.7" fill="none" stroke="#000000" stroke-width="2" stroke-opacity="0.92"/>
<polygon points="1475.5,1282 1495.1,1314.2 1455.9,1314.2" fill="none" stroke="#000000" stroke-width="2" stroke-opacity="0.92"/>
<polygon points="1551.1,1289.5 1570.7,1321.7 1531.5,1321.7" fill="none" stroke="#000000" stroke-width="2" stroke-opacity="0.92"/>
<polygon points="1626.8,1296.5 1646.4,1328.7 1607.2,1328.7" fill="none" stroke="#000000" stroke-width="2" stroke-opacity="0.92"/>
<polygon points="1702.4,1303 1722,1335.2 1682.8,1335.2" fill="none" stroke="#000000" stroke-width="2" stroke-opacity="0.92"/>
<polygon points="1778.1,1307.5 1797.7,1339.7 1758.5,1339.7" fill="none" stroke="#000000" stroke-width="2" stroke-opacity="0.92"/>
<polygon points="1853.7,1312.8 1873.3,1345 1834.1,1345" fill="none" stroke="#000000" stroke-width="2" stroke-opacity="0.92"/>
<polygon points="1929.4,1319.4 1949,1351.6 1909.8,1351.6" fill="none" stroke="#000000" stroke-width="2" stroke-opacity="0.92"/>
<polygon points="2005,1324 2024.6,1356.2 1985.4,1356.2" fill="none" stroke="#000000" stroke-width="2" stroke-opacity="0.92"/>
<polygon points="2080.7,1328.9 2100.3,1361.1 2061.1,1361.1" fill="none" stroke="#000000" stroke-width="2" stroke-opacity="0.92"/>
<polygon points="2156.3,1333.5 2175.9,1365.7 2136.7,1365.7" fill="none" stroke="#000000" stroke-width="2" stroke-opacity="0.92"/>
<polygon points="2232,1338.2 2251.6,1370.4 2212.4,1370.4" fill="none" stroke="#000000" stroke-width="2" stroke-opacity="0.92"/>
</g>
<g>
<path d="M2051 570.4H2178.5" stroke="#9400D3" stroke-width="2.6" stroke-opacity="0.9" fill="none"/>
<polygon points="2114.5,548.4 2134.1,580.6 2094.9,580.6" fill="#9400D3"/>
<polyline clip-path="url(#c)" points="265,1164.9 340.7,1169.6 416.3,1177.6 492,1186 567.6,1195.8 643.3,1206.4 718.9,1216.5 794.6,1225.7 870.2,1237 945.9,1246.9 1021.5,1254.9 1097.2,1263.5 1172.8,1271.4 1248.5,1278.7 1324.2,1287.3 1399.8,1295.2 1475.5,1302.5 1551.1,1310 1626.8,1317 1702.4,1323.6 1778.1,1328.2 1853.7,1333.5 1929.4,1340 2005,1344.7 2080.7,1349.6 2156.3,1354.2 2232,1358.9" fill="none" stroke="#9400D3" stroke-width="1.9" stroke-opacity="0.85"/>
<polygon points="265,1142.9 284.6,1175.1 245.4,1175.1" fill="#9400D3"/>
<polygon points="340.7,1147.6 360.3,1179.8 321.1,1179.8" fill="#9400D3"/>
<polygon points="416.3,1155.6 435.9,1187.8 396.7,1187.8" fill="#9400D3"/>
<polygon points="492,1164 511.6,1196.2 472.4,1196.2" fill="#9400D3"/>
<polygon points="567.6,1173.8 587.2,1206 548,1206" fill="#9400D3"/>
<polygon points="643.3,1184.4 662.9,1216.6 623.7,1216.6" fill="#9400D3"/>
<polygon points="718.9,1194.5 738.5,1226.7 699.3,1226.7" fill="#9400D3"/>
<polygon points="794.6,1203.7 814.2,1235.9 775,1235.9" fill="#9400D3"/>
<polygon points="870.2,1215 889.8,1247.2 850.6,1247.2" fill="#9400D3"/>
<polygon points="945.9,1224.9 965.5,1257.1 926.3,1257.1" fill="#9400D3"/>
<polygon points="1021.5,1232.9 1041.1,1265.1 1001.9,1265.1" fill="#9400D3"/>
<polygon points="1097.2,1241.5 1116.8,1273.7 1077.6,1273.7" fill="#9400D3"/>
<polygon points="1172.8,1249.4 1192.4,1281.6 1153.2,1281.6" fill="#9400D3"/>
<polygon points="1248.5,1256.7 1268.1,1288.9 1228.9,1288.9" fill="#9400D3"/>
<polygon points="1324.2,1265.3 1343.8,1297.5 1304.6,1297.5" fill="#9400D3"/>
<polygon points="1399.8,1273.2 1419.4,1305.4 1380.2,1305.4" fill="#9400D3"/>
<polygon points="1475.5,1280.5 1495.1,1312.7 1455.9,1312.7" fill="#9400D3"/>
<polygon points="1551.1,1288 1570.7,1320.2 1531.5,1320.2" fill="#9400D3"/>
<polygon points="1626.8,1295 1646.4,1327.2 1607.2,1327.2" fill="#9400D3"/>
<polygon points="1702.4,1301.6 1722,1333.8 1682.8,1333.8" fill="#9400D3"/>
<polygon points="1778.1,1306.2 1797.7,1338.4 1758.5,1338.4" fill="#9400D3"/>
<polygon points="1853.7,1311.5 1873.3,1343.7 1834.1,1343.7" fill="#9400D3"/>
<polygon points="1929.4,1318 1949,1350.2 1909.8,1350.2" fill="#9400D3"/>
<polygon points="2005,1322.7 2024.6,1354.9 1985.4,1354.9" fill="#9400D3"/>
<polygon points="2080.7,1327.6 2100.3,1359.8 2061.1,1359.8" fill="#9400D3"/>
<polygon points="2156.3,1332.2 2175.9,1364.4 2136.7,1364.4" fill="#9400D3"/>
<polygon points="2232,1336.9 2251.6,1369.1 2212.4,1369.1" fill="#9400D3"/>
</g>
<g>
<path d="M2051 615H2178.5" stroke="#009E73" stroke-width="4.6" stroke-opacity="0.45" fill="none"/>
<polygon points="2114.5,637 2134.1,604.8 2094.9,604.8" fill="none" stroke="#009E73" stroke-width="2" stroke-opacity="0.92"/>
<polyline clip-path="url(#c)" points="265,1151.7 340.7,1159 416.3,1168.9 492,1178.8 567.6,1190.5 643.3,1200.4 718.9,1211.6 794.6,1222.9 870.2,1232.3 945.9,1240.9 1021.5,1251.5 1097.2,1261.4 1172.8,1269.7 1248.5,1279 1324.2,1287 1399.8,1295 1475.5,1301.7 1551.1,1308.3 1626.8,1314.3 1702.4,1320.9 1778.1,1325.2 1853.7,1331.1 1929.4,1336.4 2005,1342.4 2080.7,1347.2 2156.3,1352 2232,1355.5" fill="none" stroke="#009E73" stroke-width="1.9" stroke-opacity="0.85"/>
<polygon points="265,1173.7 284.6,1141.5 245.4,1141.5" fill="none" stroke="#009E73" stroke-width="2" stroke-opacity="0.92"/>
<polygon points="340.7,1181 360.3,1148.8 321.1,1148.8" fill="none" stroke="#009E73" stroke-width="2" stroke-opacity="0.92"/>
<polygon points="416.3,1190.9 435.9,1158.7 396.7,1158.7" fill="none" stroke="#009E73" stroke-width="2" stroke-opacity="0.92"/>
<polygon points="492,1200.8 511.6,1168.6 472.4,1168.6" fill="none" stroke="#009E73" stroke-width="2" stroke-opacity="0.92"/>
<polygon points="567.6,1212.5 587.2,1180.3 548,1180.3" fill="none" stroke="#009E73" stroke-width="2" stroke-opacity="0.92"/>
<polygon points="643.3,1222.4 662.9,1190.2 623.7,1190.2" fill="none" stroke="#009E73" stroke-width="2" stroke-opacity="0.92"/>
<polygon points="718.9,1233.6 738.5,1201.4 699.3,1201.4" fill="none" stroke="#009E73" stroke-width="2" stroke-opacity="0.92"/>
<polygon points="794.6,1244.9 814.2,1212.7 775,1212.7" fill="none" stroke="#009E73" stroke-width="2" stroke-opacity="0.92"/>
<polygon points="870.2,1254.3 889.8,1222.1 850.6,1222.1" fill="none" stroke="#009E73" stroke-width="2" stroke-opacity="0.92"/>
<polygon points="945.9,1262.9 965.5,1230.7 926.3,1230.7" fill="none" stroke="#009E73" stroke-width="2" stroke-opacity="0.92"/>
<polygon points="1021.5,1273.5 1041.1,1241.3 1001.9,1241.3" fill="none" stroke="#009E73" stroke-width="2" stroke-opacity="0.92"/>
<polygon points="1097.2,1283.4 1116.8,1251.2 1077.6,1251.2" fill="none" stroke="#009E73" stroke-width="2" stroke-opacity="0.92"/>
<polygon points="1172.8,1291.7 1192.4,1259.5 1153.2,1259.5" fill="none" stroke="#009E73" stroke-width="2" stroke-opacity="0.92"/>
<polygon points="1248.5,1301 1268.1,1268.8 1228.9,1268.8" fill="none" stroke="#009E73" stroke-width="2" stroke-opacity="0.92"/>
<polygon points="1324.2,1309 1343.8,1276.8 1304.6,1276.8" fill="none" stroke="#009E73" stroke-width="2" stroke-opacity="0.92"/>
<polygon points="1399.8,1317 1419.4,1284.8 1380.2,1284.8" fill="none" stroke="#009E73" stroke-width="2" stroke-opacity="0.92"/>
<polygon points="1475.5,1323.7 1495.1,1291.5 1455.9,1291.5" fill="none" stroke="#009E73" stroke-width="2" stroke-opacity="0.92"/>
<polygon points="1551.1,1330.3 1570.7,1298.1 1531.5,1298.1" fill="none" stroke="#009E73" stroke-width="2" stroke-opacity="0.92"/>
<polygon points="1626.8,1336.3 1646.4,1304.1 1607.2,1304.1" fill="none" stroke="#009E73" stroke-width="2" stroke-opacity="0.92"/>
<polygon points="1702.4,1342.9 1722,1310.7 1682.8,1310.7" fill="none" stroke="#009E73" stroke-width="2" stroke-opacity="0.92"/>
<polygon points="1778.1,1347.2 1797.7,1315 1758.5,1315" fill="none" stroke="#009E73" stroke-width="2" stroke-opacity="0.92"/>
<polygon points="1853.7,1353.1 1873.3,1320.9 1834.1,1320.9" fill="none" stroke="#009E73" stroke-width="2" stroke-opacity="0.92"/>
<polygon points="1929.4,1358.4 1949,1326.2 1909.8,1326.2" fill="none" stroke="#009E73" stroke-width="2" stroke-opacity="0.92"/>
<polygon points="2005,1364.4 2024.6,1332.2 1985.4,1332.2" fill="none" stroke="#009E73" stroke-width="2" stroke-opacity="0.92"/>
<polygon points="2080.7,1369.2 2100.3,1337 2061.1,1337" fill="none" stroke="#009E73" stroke-width="2" stroke-opacity="0.92"/>
<polygon points="2156.3,1374 2175.9,1341.8 2136.7,1341.8" fill="none" stroke="#009E73" stroke-width="2" stroke-opacity="0.92"/>
<polygon points="2232,1377.5 2251.6,1345.3 2212.4,1345.3" fill="none" stroke="#009E73" stroke-width="2" stroke-opacity="0.92"/>
</g>
<g>
<path d="M2051 659.6H2178.5" stroke="#56B4E9" stroke-width="3.4" stroke-opacity="0.65" fill="none"/>
<polygon points="2114.5,681.6 2134.1,649.4 2094.9,649.4" fill="#56B4E9"/>
<polyline clip-path="url(#c)" points="265,934 340.7,975 416.3,1012.5 492,1046.5 567.6,1078.1 643.3,1106 718.9,1131.5 794.6,1155 870.2,1175.5 945.9,1193.5 1021.5,1210 1097.2,1225 1172.8,1239.5 1248.5,1252 1324.2,1264 1399.8,1274.5 1475.5,1284.7 1551.1,1294.5 1626.8,1302.5 1702.4,1309.5 1778.1,1316.5 1853.7,1323.4 1929.4,1330 2005,1336.2 2080.7,1342 2156.3,1347.2 2232,1352" fill="none" stroke="#56B4E9" stroke-width="1.9" stroke-opacity="0.85"/>
<polygon points="265,956 284.6,923.8 245.4,923.8" fill="#56B4E9"/>
<polygon points="340.7,997 360.3,964.8 321.1,964.8" fill="#56B4E9"/>
<polygon points="416.3,1034.5 435.9,1002.3 396.7,1002.3" fill="#56B4E9"/>
<polygon points="492,1068.5 511.6,1036.3 472.4,1036.3" fill="#56B4E9"/>
<polygon points="567.6,1100.1 587.2,1067.9 548,1067.9" fill="#56B4E9"/>
<polygon points="643.3,1128 662.9,1095.8 623.7,1095.8" fill="#56B4E9"/>
<polygon points="718.9,1153.5 738.5,1121.3 699.3,1121.3" fill="#56B4E9"/>
<polygon points="794.6,1177 814.2,1144.8 775,1144.8" fill="#56B4E9"/>
<polygon points="870.2,1197.5 889.8,1165.3 850.6,1165.3" fill="#56B4E9"/>
<polygon points="945.9,1215.5 965.5,1183.3 926.3,1183.3" fill="#56B4E9"/>
<polygon points="1021.5,1232 1041.1,1199.8 1001.9,1199.8" fill="#56B4E9"/>
<polygon points="1097.2,1247 1116.8,1214.8 1077.6,1214.8" fill="#56B4E9"/>
<polygon points="1172.8,1261.5 1192.4,1229.3 1153.2,1229.3" fill="#56B4E9"/>
<polygon points="1248.5,1274 1268.1,1241.8 1228.9,1241.8" fill="#56B4E9"/>
<polygon points="1324.2,1286 1343.8,1253.8 1304.6,1253.8" fill="#56B4E9"/>
<polygon points="1399.8,1296.5 1419.4,1264.3 1380.2,1264.3" fill="#56B4E9"/>
<polygon points="1475.5,1306.7 1495.1,1274.5 1455.9,1274.5" fill="#56B4E9"/>
<polygon points="1551.1,1316.5 1570.7,1284.3 1531.5,1284.3" fill="#56B4E9"/>
<polygon points="1626.8,1324.5 1646.4,1292.3 1607.2,1292.3" fill="#56B4E9"/>
<polygon points="1702.4,1331.5 1722,1299.3 1682.8,1299.3" fill="#56B4E9"/>
<polygon points="1778.1,1338.5 1797.7,1306.3 1758.5,1306.3" fill="#56B4E9"/>
<polygon points="1853.7,1345.4 1873.3,1313.2 1834.1,1313.2" fill="#56B4E9"/>
<polygon points="1929.4,1352 1949,1319.8 1909.8,1319.8" fill="#56B4E9"/>
<polygon points="2005,1358.2 2024.6,1326 1985.4,1326" fill="#56B4E9"/>
<polygon points="2080.7,1364 2100.3,1331.8 2061.1,1331.8" fill="#56B4E9"/>
<polygon points="2156.3,1369.2 2175.9,1337 2136.7,1337" fill="#56B4E9"/>
<polygon points="2232,1374 2251.6,1341.8 2212.4,1341.8" fill="#56B4E9"/>
</g>
<g>
<path d="M2051 704.2H2178.5" stroke="#E69F00" stroke-width="4.2" stroke-opacity="0.55" fill="none"/>
<polygon points="2114.5,684.2 2134.5,704.2 2114.5,724.2 2094.5,704.2" fill="none" stroke="#E69F00" stroke-width="2" stroke-opacity="0.92"/>
<polyline clip-path="url(#c)" points="265,546.8 340.7,669.8 416.3,773.3 492,857.2 567.6,928.7 643.3,987.7 718.9,1035.3 794.6,1077.6 870.2,1112.4 945.9,1142 1021.5,1168 1097.2,1191.8 1172.8,1212.2 1248.5,1231 1324.2,1247 1399.8,1262 1475.5,1275 1551.1,1286 1626.8,1296.5 1702.4,1306 1778.1,1315 1853.7,1323.5 1929.4,1331 2005,1338 2080.7,1344.5 2156.3,1350.5 2232,1356" fill="none" stroke="#E69F00" stroke-width="1.9" stroke-opacity="0.85"/>
<polygon points="265,526.8 285,546.8 265,566.8 245,546.8" fill="none" stroke="#E69F00" stroke-width="2" stroke-opacity="0.92"/>
<polygon points="340.7,649.8 360.7,669.8 340.7,689.8 320.7,669.8" fill="none" stroke="#E69F00" stroke-width="2" stroke-opacity="0.92"/>
<polygon points="416.3,753.3 436.3,773.3 416.3,793.3 396.3,773.3" fill="none" stroke="#E69F00" stroke-width="2" stroke-opacity="0.92"/>
<polygon points="492,837.2 512,857.2 492,877.2 472,857.2" fill="none" stroke="#E69F00" stroke-width="2" stroke-opacity="0.92"/>
<polygon points="567.6,908.7 587.6,928.7 567.6,948.7 547.6,928.7" fill="none" stroke="#E69F00" stroke-width="2" stroke-opacity="0.92"/>
<polygon points="643.3,967.7 663.3,987.7 643.3,1007.7 623.3,987.7" fill="none" stroke="#E69F00" stroke-width="2" stroke-opacity="0.92"/>
<polygon points="718.9,1015.3 738.9,1035.3 718.9,1055.3 698.9,1035.3" fill="none" stroke="#E69F00" stroke-width="2" stroke-opacity="0.92"/>
<polygon points="794.6,1057.6 814.6,1077.6 794.6,1097.6 774.6,1077.6" fill="none" stroke="#E69F00" stroke-width="2" stroke-opacity="0.92"/>
<polygon points="870.2,1092.4 890.2,1112.4 870.2,1132.4 850.2,1112.4" fill="none" stroke="#E69F00" stroke-width="2" stroke-opacity="0.92"/>
<polygon points="945.9,1122 965.9,1142 945.9,1162 925.9,1142" fill="none" stroke="#E69F00" stroke-width="2" stroke-opacity="0.92"/>
<polygon points="1021.5,1148 1041.5,1168 1021.5,1188 1001.5,1168" fill="none" stroke="#E69F00" stroke-width="2" stroke-opacity="0.92"/>
<polygon points="1097.2,1171.8 1117.2,1191.8 1097.2,1211.8 1077.2,1191.8" fill="none" stroke="#E69F00" stroke-width="2" stroke-opacity="0.92"/>
<polygon points="1172.8,1192.2 1192.8,1212.2 1172.8,1232.2 1152.8,1212.2" fill="none" stroke="#E69F00" stroke-width="2" stroke-opacity="0.92"/>
<polygon points="1248.5,1211 1268.5,1231 1248.5,1251 1228.5,1231" fill="none" stroke="#E69F00" stroke-width="2" stroke-opacity="0.92"/>
<polygon points="1324.2,1227 1344.2,1247 1324.2,1267 1304.2,1247" fill="none" stroke="#E69F00" stroke-width="2" stroke-opacity="0.92"/>
<polygon points="1399.8,1242 1419.8,1262 1399.8,1282 1379.8,1262" fill="none" stroke="#E69F00" stroke-width="2" stroke-opacity="0.92"/>
<polygon points="1475.5,1255 1495.5,1275 1475.5,1295 1455.5,1275" fill="none" stroke="#E69F00" stroke-width="2" stroke-opacity="0.92"/>
<polygon points="1551.1,1266 1571.1,1286 1551.1,1306 1531.1,1286" fill="none" stroke="#E69F00" stroke-width="2" stroke-opacity="0.92"/>
<polygon points="1626.8,1276.5 1646.8,1296.5 1626.8,1316.5 1606.8,1296.5" fill="none" stroke="#E69F00" stroke-width="2" stroke-opacity="0.92"/>
<polygon points="1702.4,1286 1722.4,1306 1702.4,1326 1682.4,1306" fill="none" stroke="#E69F00" stroke-width="2" stroke-opacity="0.92"/>
<polygon points="1778.1,1295 1798.1,1315 1778.1,1335 1758.1,1315" fill="none" stroke="#E69F00" stroke-width="2" stroke-opacity="0.92"/>
<polygon points="1853.7,1303.5 1873.7,1323.5 1853.7,1343.5 1833.7,1323.5" fill="none" stroke="#E69F00" stroke-width="2" stroke-opacity="0.92"/>
<polygon points="1929.4,1311 1949.4,1331 1929.4,1351 1909.4,1331" fill="none" stroke="#E69F00" stroke-width="2" stroke-opacity="0.92"/>
<polygon points="2005,1318 2025,1338 2005,1358 1985,1338" fill="none" stroke="#E69F00" stroke-width="2" stroke-opacity="0.92"/>
<polygon points="2080.7,1324.5 2100.7,1344.5 2080.7,1364.5 2060.7,1344.5" fill="none" stroke="#E69F00" stroke-width="2" stroke-opacity="0.92"/>
<polygon points="2156.3,1330.5 2176.3,1350.5 2156.3,1370.5 2136.3,1350.5" fill="none" stroke="#E69F00" stroke-width="2" stroke-opacity="0.92"/>
<polygon points="2232,1336 2252,1356 2232,1376 2212,1356" fill="none" stroke="#E69F00" stroke-width="2" stroke-opacity="0.92"/>
</g>
<g>
<path d="M2051 748.8H2178.5" stroke="#F0E442" stroke-width="3" stroke-opacity="0.75" fill="none"/>
<polygon points="2114.5,728.8 2134.5,748.8 2114.5,768.8 2094.5,748.8" fill="#F0E442"/>
<polyline clip-path="url(#c)" points="265,435.7 340.7,575.9 416.3,696.8 492,795.5 567.6,876.6 643.3,944.3 718.9,1001 794.6,1046.9 870.2,1086.5 945.9,1120.1 1021.5,1148.6 1097.2,1175.7 1172.8,1198.1 1248.5,1218 1324.2,1236 1399.8,1252 1475.5,1266 1551.1,1279 1626.8,1291 1702.4,1302 1778.1,1312 1853.7,1321 1929.4,1329 2005,1336 2080.7,1343 2156.3,1349 2232,1354" fill="none" stroke="#F0E442" stroke-width="1.9" stroke-opacity="0.85"/>
<polygon points="265,415.7 285,435.7 265,455.7 245,435.7" fill="#F0E442"/>
<polygon points="340.7,555.9 360.7,575.9 340.7,595.9 320.7,575.9" fill="#F0E442"/>
<polygon points="416.3,676.8 436.3,696.8 416.3,716.8 396.3,696.8" fill="#F0E442"/>
<polygon points="492,775.5 512,795.5 492,815.5 472,795.5" fill="#F0E442"/>
<polygon points="567.6,856.6 587.6,876.6 567.6,896.6 547.6,876.6" fill="#F0E442"/>
<polygon points="643.3,924.3 663.3,944.3 643.3,964.3 623.3,944.3" fill="#F0E442"/>
<polygon points="718.9,981 738.9,1001 718.9,1021 698.9,1001" fill="#F0E442"/>
<polygon points="794.6,1026.9 814.6,1046.9 794.6,1066.9 774.6,1046.9" fill="#F0E442"/>
<polygon points="870.2,1066.5 890.2,1086.5 870.2,1106.5 850.2,1086.5" fill="#F0E442"/>
<polygon points="945.9,1100.1 965.9,1120.1 945.9,1140.1 925.9,1120.1" fill="#F0E442"/>
<polygon points="1021.5,1128.6 1041.5,1148.6 1021.5,1168.6 1001.5,1148.6" fill="#F0E442"/>
<polygon points="1097.2,1155.7 1117.2,1175.7 1097.2,1195.7 1077.2,1175.7" fill="#F0E442"/>
<polygon points="1172.8,1178.1 1192.8,1198.1 1172.8,1218.1 1152.8,1198.1" fill="#F0E442"/>
<polygon points="1248.5,1198 1268.5,1218 1248.5,1238 1228.5,1218" fill="#F0E442"/>
<polygon points="1324.2,1216 1344.2,1236 1324.2,1256 1304.2,1236" fill="#F0E442"/>
<polygon points="1399.8,1232 1419.8,1252 1399.8,1272 1379.8,1252" fill="#F0E442"/>
<polygon points="1475.5,1246 1495.5,1266 1475.5,1286 1455.5,1266" fill="#F0E442"/>
<polygon points="1551.1,1259 1571.1,1279 1551.1,1299 1531.1,1279" fill="#F0E442"/>
<polygon points="1626.8,1271 1646.8,1291 1626.8,1311 1606.8,1291" fill="#F0E442"/>
<polygon points="1702.4,1282 1722.4,1302 1702.4,1322 1682.4,1302" fill="#F0E442"/>
<polygon points="1778.1,1292 1798.1,1312 1778.1,1332 1758.1,1312" fill="#F0E442"/>
<polygon points="1853.7,1301 1873.7,1321 1853.7,1341 1833.7,1321" fill="#F0E442"/>
<polygon points="1929.4,1309 1949.4,1329 1929.4,1349 1909.4,1329" fill="#F0E442"/>
<polygon points="2005,1316 2025,1336 2005,1356 1985,1336" fill="#F0E442"/>
<polygon points="2080.7,1323 2100.7,1343 2080.7,1363 2060.7,1343" fill="#F0E442"/>
<polygon points="2156.3,1329 2176.3,1349 2156.3,1369 2136.3,1349" fill="#F0E442"/>
<polygon points="2232,1334 2252,1354 2232,1374 2212,1354" fill="#F0E442"/>
</g>
<g>
<path d="M2051 793.4H2178.5" stroke="#0072B2" stroke-width="2.6" stroke-opacity="0.9" fill="none"/>
<polygon points="2114.5,773.1 2133.8,787.1 2126.4,809.8 2102.6,809.8 2095.2,787.1" fill="none" stroke="#0072B2" stroke-width="2" stroke-opacity="0.92"/>
<polyline clip-path="url(#c)" points="265,444.5 340.7,558.2 416.3,669.7 492,764.8 567.6,846.4 643.3,913.3 718.9,972.1 794.6,1025 870.2,1062.8 945.9,1099.9 1021.5,1132.4 1097.2,1160.2 1172.8,1182.1 1248.5,1202.5 1324.2,1222.4 1399.8,1238 1475.5,1252 1551.1,1265 1626.8,1277.5 1702.4,1289.5 1778.1,1300.5 1853.7,1310.3 1929.4,1319.3 2005,1327.3 2080.7,1335 2156.3,1342 2232,1348.5" fill="none" stroke="#0072B2" stroke-width="1.9" stroke-opacity="0.85"/>
<polygon points="265,424.2 284.3,438.2 276.9,460.9 253.1,460.9 245.7,438.2" fill="none" stroke="#0072B2" stroke-width="2" stroke-opacity="0.92"/>
<polygon points="340.7,537.9 360,551.9 352.6,574.6 328.7,574.6 321.3,551.9" fill="none" stroke="#0072B2" stroke-width="2" stroke-opacity="0.92"/>
<polygon points="416.3,649.4 435.6,663.4 428.2,686.1 404.4,686.1 397,663.4" fill="none" stroke="#0072B2" stroke-width="2" stroke-opacity="0.92"/>
<polygon points="492,744.5 511.3,758.5 503.9,781.2 480,781.2 472.7,758.5" fill="none" stroke="#0072B2" stroke-width="2" stroke-opacity="0.92"/>
<polygon points="567.6,826.1 586.9,840.1 579.5,862.8 555.7,862.8 548.3,840.1" fill="none" stroke="#0072B2" stroke-width="2" stroke-opacity="0.92"/>
<polygon points="643.3,893 662.6,907 655.2,929.7 631.3,929.7 624,907" fill="none" stroke="#0072B2" stroke-width="2" stroke-opacity="0.92"/>
<polygon points="718.9,951.8 738.2,965.8 730.9,988.5 707,988.5 699.6,965.8" fill="none" stroke="#0072B2" stroke-width="2" stroke-opacity="0.92"/>
<polygon points="794.6,1004.7 813.9,1018.7 806.5,1041.4 782.6,1041.4 775.3,1018.7" fill="none" stroke="#0072B2" stroke-width="2" stroke-opacity="0.92"/>
<polygon points="870.2,1042.5 889.5,1056.5 882.2,1079.2 858.3,1079.2 850.9,1056.5" fill="none" stroke="#0072B2" stroke-width="2" stroke-opacity="0.92"/>
<polygon points="945.9,1079.6 965.2,1093.6 957.8,1116.3 934,1116.3 926.6,1093.6" fill="none" stroke="#0072B2" stroke-width="2" stroke-opacity="0.92"/>
<polygon points="1021.5,1112.1 1040.8,1126.1 1033.5,1148.8 1009.6,1148.8 1002.2,1126.1" fill="none" stroke="#0072B2" stroke-width="2" stroke-opacity="0.92"/>
<polygon points="1097.2,1139.9 1116.5,1153.9 1109.1,1176.6 1085.3,1176.6 1077.9,1153.9" fill="none" stroke="#0072B2" stroke-width="2" stroke-opacity="0.92"/>
<polygon points="1172.8,1161.8 1192.2,1175.8 1184.8,1198.5 1160.9,1198.5 1153.5,1175.8" fill="none" stroke="#0072B2" stroke-width="2" stroke-opacity="0.92"/>
<polygon points="1248.5,1182.2 1267.8,1196.2 1260.4,1218.9 1236.6,1218.9 1229.2,1196.2" fill="none" stroke="#0072B2" stroke-width="2" stroke-opacity="0.92"/>
<polygon points="1324.2,1202.1 1343.5,1216.1 1336.1,1238.8 1312.2,1238.8 1304.8,1216.1" fill="none" stroke="#0072B2" stroke-width="2" stroke-opacity="0.92"/>
<polygon points="1399.8,1217.7 1419.1,1231.7 1411.7,1254.4 1387.9,1254.4 1380.5,1231.7" fill="none" stroke="#0072B2" stroke-width="2" stroke-opacity="0.92"/>
<polygon points="1475.5,1231.7 1494.8,1245.7 1487.4,1268.4 1463.5,1268.4 1456.2,1245.7" fill="none" stroke="#0072B2" stroke-width="2" stroke-opacity="0.92"/>
<polygon points="1551.1,1244.7 1570.4,1258.7 1563,1281.4 1539.2,1281.4 1531.8,1258.7" fill="none" stroke="#0072B2" stroke-width="2" stroke-opacity="0.92"/>
<polygon points="1626.8,1257.2 1646.1,1271.2 1638.7,1293.9 1614.8,1293.9 1607.5,1271.2" fill="none" stroke="#0072B2" stroke-width="2" stroke-opacity="0.92"/>
<polygon points="1702.4,1269.2 1721.7,1283.2 1714.4,1305.9 1690.5,1305.9 1683.1,1283.2" fill="none" stroke="#0072B2" stroke-width="2" stroke-opacity="0.92"/>
<polygon points="1778.1,1280.2 1797.4,1294.2 1790,1316.9 1766.1,1316.9 1758.8,1294.2" fill="none" stroke="#0072B2" stroke-width="2" stroke-opacity="0.92"/>
<polygon points="1853.7,1290 1873,1304 1865.7,1326.7 1841.8,1326.7 1834.4,1304" fill="none" stroke="#0072B2" stroke-width="2" stroke-opacity="0.92"/>
<polygon points="1929.4,1299 1948.7,1313 1941.3,1335.7 1917.5,1335.7 1910.1,1313" fill="none" stroke="#0072B2" stroke-width="2" stroke-opacity="0.92"/>
<polygon points="2005,1307 2024.3,1321 2017,1343.7 1993.1,1343.7 1985.7,1321" fill="none" stroke="#0072B2" stroke-width="2" stroke-opacity="0.92"/>
<polygon points="2080.7,1314.7 2100,1328.7 2092.6,1351.4 2068.8,1351.4 2061.4,1328.7" fill="none" stroke="#0072B2" stroke-width="2" stroke-opacity="0.92"/>
<polygon points="2156.3,1321.7 2175.7,1335.7 2168.3,1358.4 2144.4,1358.4 2137,1335.7" fill="none" stroke="#0072B2" stroke-width="2" stroke-opacity="0.92"/>
<polygon points="2232,1328.2 2251.3,1342.2 2243.9,1364.9 2220.1,1364.9 2212.7,1342.2" fill="none" stroke="#0072B2" stroke-width="2" stroke-opacity="0.92"/>
</g>
<g>
<path d="M2051 838H2178.5" stroke="#E51E10" stroke-width="3.6" stroke-opacity="0.6" fill="none"/>
<polygon points="2114.5,818.3 2133.2,831.9 2126.1,853.9 2102.9,853.9 2095.8,831.9" fill="#E51E10"/>
<polyline clip-path="url(#c)" points="265,836.1 340.7,839.3 416.3,859.1 492,889 567.6,923.9 643.3,961 718.9,996.7 794.6,1029.7 870.2,1061.1 945.9,1088.9 1021.5,1114 1097.2,1138.6 1172.8,1159.8 1248.5,1179.4 1324.2,1197.9 1399.8,1213.5 1475.5,1228.6 1551.1,1242.6 1626.8,1255.8 1702.4,1267.7 1778.1,1278.3 1853.7,1288.9 1929.4,1299 2005,1307.9 2080.7,1316.7 2156.3,1323.3 2232,1329.9" fill="none" stroke="#E51E10" stroke-width="1.9" stroke-opacity="0.85"/>
<polygon points="265,816.4 283.7,830 276.6,852 253.4,852 246.3,830" fill="#E51E10"/>
<polygon points="340.7,819.6 359.4,833.2 352.2,855.2 329.1,855.2 321.9,833.2" fill="#E51E10"/>
<polygon points="416.3,839.4 435,853 427.9,875 404.7,875 397.6,853" fill="#E51E10"/>
<polygon points="492,869.3 510.7,882.9 503.5,904.9 480.4,904.9 473.2,882.9" fill="#E51E10"/>
<polygon points="567.6,904.2 586.4,917.8 579.2,939.8 556,939.8 548.9,917.8" fill="#E51E10"/>
<polygon points="643.3,941.3 662,954.9 654.8,976.9 631.7,976.9 624.5,954.9" fill="#E51E10"/>
<polygon points="718.9,977 737.7,990.6 730.5,1012.6 707.3,1012.6 700.2,990.6" fill="#E51E10"/>
<polygon points="794.6,1010 813.3,1023.6 806.2,1045.6 783,1045.6 775.8,1023.6" fill="#E51E10"/>
<polygon points="870.2,1041.4 889,1055 881.8,1077 858.7,1077 851.5,1055" fill="#E51E10"/>
<polygon points="945.9,1069.2 964.6,1082.8 957.5,1104.8 934.3,1104.8 927.1,1082.8" fill="#E51E10"/>
<polygon points="1021.5,1094.3 1040.3,1107.9 1033.1,1129.9 1010,1129.9 1002.8,1107.9" fill="#E51E10"/>
<polygon points="1097.2,1118.9 1115.9,1132.5 1108.8,1154.5 1085.6,1154.5 1078.5,1132.5" fill="#E51E10"/>
<polygon points="1172.8,1140.1 1191.6,1153.7 1184.4,1175.7 1161.3,1175.7 1154.1,1153.7" fill="#E51E10"/>
<polygon points="1248.5,1159.7 1267.2,1173.3 1260.1,1195.3 1236.9,1195.3 1229.8,1173.3" fill="#E51E10"/>
<polygon points="1324.2,1178.2 1342.9,1191.8 1335.7,1213.8 1312.6,1213.8 1305.4,1191.8" fill="#E51E10"/>
<polygon points="1399.8,1193.8 1418.5,1207.4 1411.4,1229.4 1388.2,1229.4 1381.1,1207.4" fill="#E51E10"/>
<polygon points="1475.5,1208.9 1494.2,1222.5 1487,1244.5 1463.9,1244.5 1456.7,1222.5" fill="#E51E10"/>
<polygon points="1551.1,1222.9 1569.9,1236.5 1562.7,1258.5 1539.5,1258.5 1532.4,1236.5" fill="#E51E10"/>
<polygon points="1626.8,1236.1 1645.5,1249.7 1638.3,1271.7 1615.2,1271.7 1608,1249.7" fill="#E51E10"/>
<polygon points="1702.4,1248 1721.2,1261.6 1714,1283.6 1690.8,1283.6 1683.7,1261.6" fill="#E51E10"/>
<polygon points="1778.1,1258.6 1796.8,1272.2 1789.7,1294.2 1766.5,1294.2 1759.3,1272.2" fill="#E51E10"/>
<polygon points="1853.7,1269.2 1872.5,1282.8 1865.3,1304.8 1842.2,1304.8 1835,1282.8" fill="#E51E10"/>
<polygon points="1929.4,1279.3 1948.1,1292.9 1941,1314.9 1917.8,1314.9 1910.6,1292.9" fill="#E51E10"/>
<polygon points="2005,1288.2 2023.8,1301.8 2016.6,1323.8 1993.5,1323.8 1986.3,1301.8" fill="#E51E10"/>
<polygon points="2080.7,1297 2099.4,1310.6 2092.3,1332.6 2069.1,1332.6 2062,1310.6" fill="#E51E10"/>
<polygon points="2156.3,1303.6 2175.1,1317.2 2167.9,1339.2 2144.8,1339.2 2137.6,1317.2" fill="#E51E10"/>
<polygon points="2232,1310.2 2250.7,1323.8 2243.6,1345.8 2220.4,1345.8 2213.3,1323.8" fill="#E51E10"/>
</g>
<g>
<path d="M2051 882.6H2178.5" stroke="#000000" stroke-width="2.6" stroke-opacity="0.85" fill="none"/>
<circle cx="2114.5" cy="882.6" r="20" fill="none" stroke="#000" stroke-width="2.5"/><path d="M2114.5 882.6V862.6" stroke="#000" stroke-width="3.8" fill="none"/>
<polyline clip-path="url(#c)" points="265,1295 340.7,1287.9 416.3,1281 492,1274.7 567.6,1270.4 643.3,1266.7 718.9,1263.8 794.6,1262.5 870.2,1261.1 945.9,1261.1 1021.5,1261.6 1097.2,1262.4 1172.8,1264.3 1248.5,1265.6 1324.2,1267.2 1399.8,1270 1475.5,1273.3 1551.1,1275.9 1626.8,1279.4 1702.4,1282 1778.1,1284.7 1853.7,1288.4 1929.4,1291.8 2005,1295.8 2080.7,1299.7 2156.3,1303.2 2232,1306.9" fill="none" stroke="#000000" stroke-width="1.9" stroke-opacity="0.85"/>
<circle cx="265" cy="1295" r="20" fill="none" stroke="#000" stroke-width="2.5"/><path d="M265 1295V1275" stroke="#000" stroke-width="3.8" fill="none"/>
<circle cx="340.7" cy="1287.9" r="20" fill="none" stroke="#000" stroke-width="2.5"/><path d="M340.7 1287.9V1267.9" stroke="#000" stroke-width="3.8" fill="none"/>
<circle cx="416.3" cy="1281" r="20" fill="none" stroke="#000" stroke-width="2.5"/><path d="M416.3 1281V1261" stroke="#000" stroke-width="3.8" fill="none"/>
<circle cx="492" cy="1274.7" r="20" fill="none" stroke="#000" stroke-width="2.5"/><path d="M492 1274.7V1254.7" stroke="#000" stroke-width="3.8" fill="none"/>
<circle cx="567.6" cy="1270.4" r="20" fill="none" stroke="#000" stroke-width="2.5"/><path d="M567.6 1270.4V1250.4" stroke="#000" stroke-width="3.8" fill="none"/>
<circle cx="643.3" cy="1266.7" r="20" fill="none" stroke="#000" stroke-width="2.5"/><path d="M643.3 1266.7V1246.7" stroke="#000" stroke-width="3.8" fill="none"/>
<circle cx="718.9" cy="1263.8" r="20" fill="none" stroke="#000" stroke-width="2.5"/><path d="M718.9 1263.8V1243.8" stroke="#000" stroke-width="3.8" fill="none"/>
<circle cx="794.6" cy="1262.5" r="20" fill="none" stroke="#000" stroke-width="2.5"/><path d="M794.6 1262.5V1242.5" stroke="#000" stroke-width="3.8" fill="none"/>
<circle cx="870.2" cy="1261.1" r="20" fill="none" stroke="#000" stroke-width="2.5"/><path d="M870.2 1261.1V1241.1" stroke="#000" stroke-width="3.8" fill="none"/>
<circle cx="945.9" cy="1261.1" r="20" fill="none" stroke="#000" stroke-width="2.5"/><path d="M945.9 1261.1V1241.1" stroke="#000" stroke-width="3.8" fill="none"/>
<circle cx="1021.5" cy="1261.6" r="20" fill="none" stroke="#000" stroke-width="2.5"/><path d="M1021.5 1261.6V1241.6" stroke="#000" stroke-width="3.8" fill="none"/>
<circle cx="1097.2" cy="1262.4" r="20" fill="none" stroke="#000" stroke-width="2.5"/><path d="M1097.2 1262.4V1242.4" stroke="#000" stroke-width="3.8" fill="none"/>
<circle cx="1172.8" cy="1264.3" r="20" fill="none" stroke="#000" stroke-width="2.5"/><path d="M1172.8 1264.3V1244.3" stroke="#000" stroke-width="3.8" fill="none"/>
<circle cx="1248.5" cy="1265.6" r="20" fill="none" stroke="#000" stroke-width="2.5"/><path d="M1248.5 1265.6V1245.6" stroke="#000" stroke-width="3.8" fill="none"/>
<circle cx="1324.2" cy="1267.2" r="20" fill="none" stroke="#000" stroke-width="2.5"/><path d="M1324.2 1267.2V1247.2" stroke="#000" stroke-width="3.8" fill="none"/>
<circle cx="1399.8" cy="1270" r="20" fill="none" stroke="#000" stroke-width="2.5"/><path d="M1399.8 1270V1250" stroke="#000" stroke-width="3.8" fill="none"/>
<circle cx="1475.5" cy="1273.3" r="20" fill="none" stroke="#000" stroke-width="2.5"/><path d="M1475.5 1273.3V1253.3" stroke="#000" stroke-width="3.8" fill="none"/>
<circle cx="1551.1" cy="1275.9" r="20" fill="none" stroke="#000" stroke-width="2.5"/><path d="M1551.1 1275.9V1255.9" stroke="#000" stroke-width="3.8" fill="none"/>
<circle cx="1626.8" cy="1279.4" r="20" fill="none" stroke="#000" stroke-width="2.5"/><path d="M1626.8 1279.4V1259.4" stroke="#000" stroke-width="3.8" fill="none"/>
<circle cx="1702.4" cy="1282" r="20" fill="none" stroke="#000" stroke-width="2.5"/><path d="M1702.4 1282V1262" stroke="#000" stroke-width="3.8" fill="none"/>
<circle cx="1778.1" cy="1284.7" r="20" fill="none" stroke="#000" stroke-width="2.5"/><path d="M1778.1 1284.7V1264.7" stroke="#000" stroke-width="3.8" fill="none"/>
<circle cx="1853.7" cy="1288.4" r="20" fill="none" stroke="#000" stroke-width="2.5"/><path d="M1853.7 1288.4V1268.4" stroke="#000" stroke-width="3.8" fill="none"/>
<circle cx="1929.4" cy="1291.8" r="20" fill="none" stroke="#000" stroke-width="2.5"/><path d="M1929.4 1291.8V1271.8" stroke="#000" stroke-width="3.8" fill="none"/>
<circle cx="2005" cy="1295.8" r="20" fill="none" stroke="#000" stroke-width="2.5"/><path d="M2005 1295.8V1275.8" stroke="#000" stroke-width="3.8" fill="none"/>
<circle cx="2080.7" cy="1299.7" r="20" fill="none" stroke="#000" stroke-width="2.5"/><path d="M2080.7 1299.7V1279.7" stroke="#000" stroke-width="3.8" fill="none"/>
<circle cx="2156.3" cy="1303.2" r="20" fill="none" stroke="#000" stroke-width="2.5"/><path d="M2156.3 1303.2V1283.2" stroke="#000" stroke-width="3.8" fill="none"/>
<circle cx="2232" cy="1306.9" r="20" fill="none" stroke="#000" stroke-width="2.5"/><path d="M2232 1306.9V1286.9" stroke="#000" stroke-width="3.8" fill="none"/>
</g>
<path d="M2051 927.2H2178.5" stroke="#9400D3" stroke-width="4.6" fill="none"/>
<path d="M2051 971.8H2178.5" stroke="#009E73" stroke-width="4.6" fill="none"/>
<path d="M265 984.8L2232 1049.4" stroke="#9400D3" stroke-width="4.7" fill="none"/>
<path d="M265 1151.4L2232 1195" stroke="#009E73" stroke-width="4.7" fill="none"/>
</g>
<path d="M265 1500V169.9" fill="none" stroke="#242424" stroke-width="4.6"/>
<path d="M262.7 172H2234" fill="none" stroke="#141414" stroke-width="4.2"/>
<path d="M2232 169.9V1500H262.7" fill="none" stroke="#000" stroke-width="4" stroke-linejoin="miter"/>
<g class="p">
<text transform="translate(2024.6 230.8) scale(0.985 1.06)" font-size="45.5" text-anchor="end"># 1</text>
<text transform="translate(2024.6 275.4) scale(0.985 1.06)" font-size="45.5" text-anchor="end"># 2</text>
<text transform="translate(2024.6 320) scale(0.985 1.06)" font-size="45.5" text-anchor="end"># 3</text>
<text transform="translate(2024.6 364.6) scale(0.985 1.06)" font-size="45.5" text-anchor="end"># 4</text>
<text transform="translate(2024.6 409.2) scale(0.985 1.06)" font-size="45.5" text-anchor="end"># 5</text>
<text transform="translate(2024.6 453.8) scale(0.985 1.06)" font-size="45.5" text-anchor="end"># 6</text>
<text transform="translate(2024.6 498.4) scale(0.985 1.06)" font-size="45.5" text-anchor="end"># 7</text>
<text transform="translate(2024.6 543) scale(0.985 1.06)" font-size="45.5" text-anchor="end"># 8</text>
<text transform="translate(2024.6 587.6) scale(0.985 1.06)" font-size="45.5" text-anchor="end"># 9</text>
<text transform="translate(2024.6 632.2) scale(0.985 1.06)" font-size="45.5" text-anchor="end"># 10</text>
<text transform="translate(2024.6 676.8) scale(0.985 1.06)" font-size="45.5" text-anchor="end"># 11</text>
<text transform="translate(2024.6 721.4) scale(0.985 1.06)" font-size="45.5" text-anchor="end"># 12</text>
<text transform="translate(2024.6 766) scale(0.985 1.06)" font-size="45.5" text-anchor="end"># 13</text>
<text transform="translate(2024.6 810.6) scale(0.985 1.06)" font-size="45.5" text-anchor="end"># 14</text>
<text transform="translate(2024.6 855.2) scale(0.985 1.06)" font-size="45.5" text-anchor="end"># 15</text>
<text transform="translate(2024.6 899.8) scale(0.985 1.06)" font-size="45.5" text-anchor="end"># 16</text>
<text transform="translate(2025 943.5) scale(0.9854 1.06)" font-size="45.5" text-anchor="end">Smith &amp; Shi (1992)</text>
<text transform="translate(1247.2 119.9) scale(0.98 1.06)" font-size="45.5" text-anchor="middle">Spectral band Mie-Debye calculations</text>
<text transform="translate(1248 1626.5) scale(0.9845 1.06)" font-size="45.5" text-anchor="middle">Cloud drop effective radius [µm]</text>
<text transform="translate(81.8 835) rotate(-90) scale(0.9776 1.06)" font-size="45.5" text-anchor="middle">Absorptance for 1 g/m<tspan font-size="34" dy="-20.5">2</tspan><tspan dy="20.5"> water load [-]</tspan></text>
<text transform="translate(345.7 1560.2) scale(1 1.06)" font-size="45.5" text-anchor="middle">5</text>
<text transform="translate(723.9 1560.2) scale(1 1.06)" font-size="45.5" text-anchor="middle">10</text>
<text transform="translate(1102.2 1560.2) scale(1 1.06)" font-size="45.5" text-anchor="middle">15</text>
<text transform="translate(1480.5 1560.2) scale(1 1.06)" font-size="45.5" text-anchor="middle">20</text>
<text transform="translate(1858.7 1560.2) scale(1 1.06)" font-size="45.5" text-anchor="middle">25</text>
<text transform="translate(2237 1560.2) scale(1 1.06)" font-size="45.5" text-anchor="middle">30</text>
<text transform="translate(239 1514.6) scale(1 1.06)" font-size="45.5" text-anchor="end">0</text>
<text transform="translate(239 1249) scale(1 1.06)" font-size="45.5" text-anchor="end">0.05</text>
<text transform="translate(239 983.4) scale(1 1.06)" font-size="45.5" text-anchor="end">0.1</text>
<text transform="translate(239 717.8) scale(1 1.06)" font-size="45.5" text-anchor="end">0.15</text>
<text transform="translate(239 452.2) scale(1 1.06)" font-size="45.5" text-anchor="end">0.2</text>
<text transform="translate(239 186.6) scale(1 1.06)" font-size="45.5" text-anchor="end">0.25</text>
</g>
</g>
<text transform="translate(2023.7 992.4) scale(1.053 1)" font-size="43.2" text-anchor="end">Kettler (2020)</text>
<text transform="translate(123.5 99.6) scale(0.95 1)" font-size="51.8" text-anchor="start">(a)</text>
</svg></body></html>
